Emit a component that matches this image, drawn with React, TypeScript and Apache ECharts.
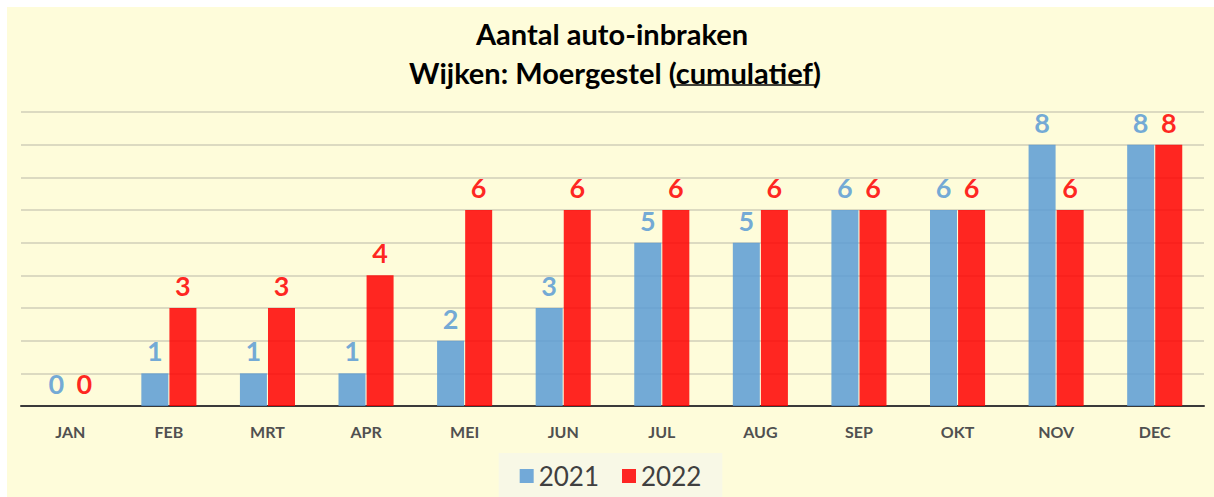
import React, { useEffect, useRef } from "react";
import * as echarts from "echarts";

const months = ["JAN", "FEB", "MRT", "APR", "MEI", "JUN", "JUL", "AUG", "SEP", "OKT", "NOV", "DEC"];
const values2021 = [0, 1, 1, 1, 2, 3, 5, 5, 6, 6, 8, 8];
const values2022 = [0, 3, 3, 4, 6, 6, 6, 6, 6, 6, 6, 8];
const seriesNames = ["2021", "2022"];
const titleLine1 = "Aantal auto-inbraken";
const titleLine2 = "Wijken: Moergestel (cumulatief)";

const FONT = "Lato, 'Open Sans', sans-serif";

export default function App() {
  const ref = useRef<HTMLDivElement>(null);
  useEffect(() => {
    if (!ref.current) return;
    const chart = echarts.init(ref.current, null, { renderer: "svg" });
    const labelStyle = (color: string) => ({
      show: true,
      position: "top",
      distance: 9,
      color,
      fontFamily: FONT,
      fontWeight: "bold",
      fontSize: 27,
    });
    chart.setOption({
      animation: false,
      backgroundColor: "#FEFCDA",
      textStyle: { fontFamily: FONT },
      graphic: [
        {
          type: "text",
          x: 605,
          y: 26,
          style: {
            text: titleLine1,
            fontFamily: FONT,
            fontWeight: "bold",
            fontSize: 29,
            fill: "#000000",
            textAlign: "center",
            textVerticalAlign: "middle",
          },
        },
        {
          type: "text",
          x: 608,
          y: 65,
          style: {
            text: titleLine2,
            fontFamily: FONT,
            fontWeight: "bold",
            fontSize: 29,
            fill: "#000000",
            textAlign: "center",
            textVerticalAlign: "middle",
          },
        },
        {
          type: "line",
          shape: { x1: 666, y1: 78, x2: 810, y2: 78 },
          style: { stroke: "#000000", lineWidth: 1.5 },
        },
      ],
      legend: {
        data: seriesNames,
        top: 446,
        left: "center",
        backgroundColor: "#F8F8E6",
        padding: [10, 21, 10, 21],
        itemWidth: 14,
        itemHeight: 14,
        itemGap: 23,
        icon: "rect",
        textStyle: { fontFamily: FONT, fontSize: 26, color: "#404040", padding: [0, 0, 0, 0] },
      },
      grid: { left: 14, right: 10, top: 105, bottom: 91, containLabel: false },
      xAxis: {
        type: "category",
        data: months,
        axisLine: { show: true, lineStyle: { color: "#3A3A3A", width: 2 } },
        axisTick: { show: false },
        axisLabel: {
          fontFamily: FONT,
          fontWeight: "bold",
          fontSize: 16,
          color: "#505050",
          margin: 17,
        },
      },
      yAxis: {
        type: "value",
        min: 0,
        max: 9,
        interval: 1,
        axisLabel: { show: false },
        axisLine: { show: false },
        axisTick: { show: false },
        splitLine: { lineStyle: { color: "#D1CFB8", width: 1.5 } },
      },
      series: [
        {
          name: seriesNames[0],
          type: "bar",
          data: values2021,
          barWidth: 27,
          barGap: "4%",
          itemStyle: { color: "#5B9BD5", opacity: 0.85 },
          label: labelStyle("#5B9BD5"),
        },
        {
          name: seriesNames[1],
          type: "bar",
          data: values2022,
          barWidth: 27,
          barGap: "4%",
          itemStyle: { color: "#FF0000", opacity: 0.85 },
          label: labelStyle("#FF0000"),
        },
      ],
    });
    return () => chart.dispose();
  }, []);
  return (
    <div style={{ position: "absolute", left: 0, top: 0, width: 1214, height: 497, background: "#FFFFFF" }}>
      <div ref={ref} style={{ position: "absolute", left: 7, top: 7, width: 1207, height: 490 }} />
    </div>
  );
}
